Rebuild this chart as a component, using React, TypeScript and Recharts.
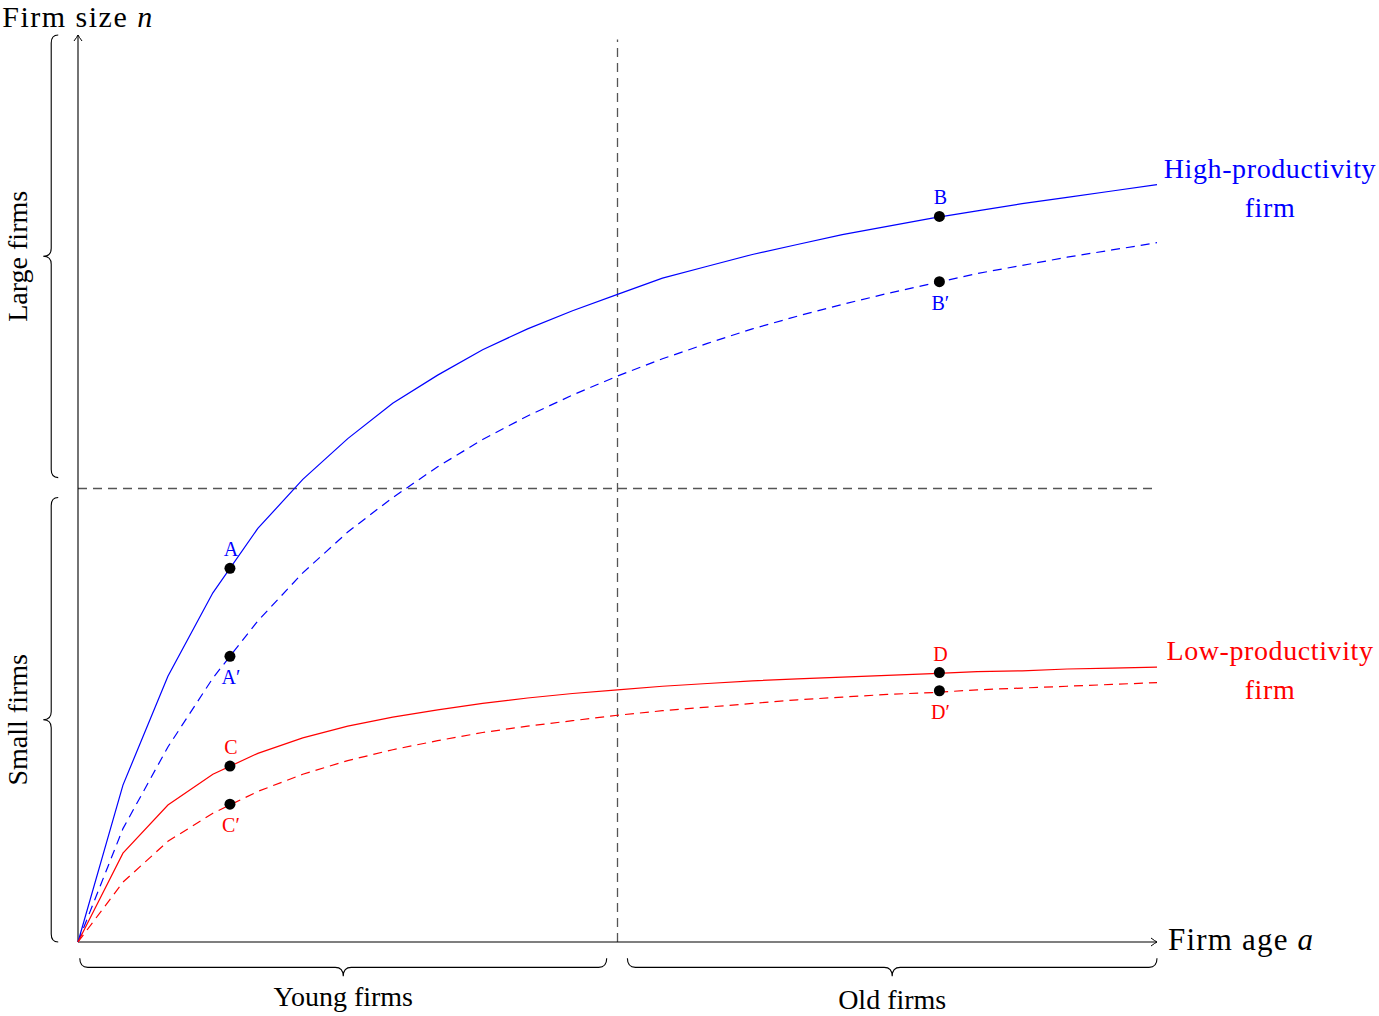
import { ComposedChart, Line, Scatter, XAxis, YAxis, ReferenceLine, ReferenceDot } from 'recharts';

document.body.style.margin = '0';

const FONT = '"Liberation Serif", "Times New Roman", serif';
const BLUE = '#0000ff';
const RED = '#ff0000';
const GUIDE = '#555';
const DASH = '9 6';

// firm age grid of the curves
const AGE = [0, 0.5, 1, 1.5, 2, 2.5, 3, 3.5, 4, 4.5, 5, 5.5, 6, 6.5, 7, 7.5, 8, 8.5, 9, 9.5, 10, 10.5, 11, 11.5, 12];
const HIGH_SOLID = [0, 1.73, 2.93, 3.85, 4.56, 5.1, 5.55, 5.94, 6.25, 6.53, 6.76, 6.96, 7.14, 7.32, 7.45, 7.58, 7.69, 7.8, 7.89, 7.98, 8.06, 8.14, 8.21, 8.28, 8.35];
const HIGH_DASHED = [0, 1.25, 2.15, 2.91, 3.54, 4.07, 4.52, 4.9, 5.24, 5.54, 5.8, 6.03, 6.24, 6.43, 6.6, 6.76, 6.9, 7.03, 7.15, 7.26, 7.37, 7.46, 7.55, 7.63, 7.71];
const LOW_SOLID = [0, 0.98, 1.51, 1.85, 2.08, 2.25, 2.38, 2.48, 2.56, 2.63, 2.69, 2.74, 2.78, 2.82, 2.85, 2.88, 2.9, 2.92, 2.94, 2.96, 2.98, 2.99, 3.01, 3.02, 3.03];
const LOW_DASHED = [0, 0.66, 1.11, 1.42, 1.66, 1.85, 2.0, 2.12, 2.22, 2.31, 2.38, 2.44, 2.5, 2.55, 2.59, 2.63, 2.67, 2.7, 2.73, 2.75, 2.78, 2.8, 2.82, 2.84, 2.86];

// marked points
const POINT_LABELS = ['A', 'A\u2032', 'B', 'B\u2032', 'C', 'C\u2032', 'D', 'D\u2032'];
const POINT_AGE = [1.69, 1.69, 9.58, 9.58, 1.69, 1.69, 9.58, 9.58];
const POINT_SIZE = [4.12, 3.15, 8.0, 7.28, 1.94, 1.52, 2.97, 2.77];
const POINT_COLOR = [BLUE, BLUE, BLUE, BLUE, RED, RED, RED, RED];
const POINT_BELOW = [false, true, false, true, false, true, false, true];

// thresholds and braces
const AGE_CUTOFF = 6;
const SIZE_CUTOFF = 5;
const AGE_MAX = 12;
const SIZE_MAX = 10;
const LARGE_RANGE = [5.12, 10];
const SMALL_RANGE = [0, 4.9];
const YOUNG_RANGE = [0.02, 5.88];
const OLD_RANGE = [6.11, 12];
const SIZE_BRACE_AT = -0.22;
const AGE_BRACE_AT = -0.18;

const rows = AGE.map((x, i) => ({
  x,
  highSolid: HIGH_SOLID[i],
  highDashed: HIGH_DASHED[i],
  lowSolid: LOW_SOLID[i],
  lowDashed: LOW_DASHED[i],
}));

const points = POINT_LABELS.map((label, i) => ({
  x: POINT_AGE[i],
  y: POINT_SIZE[i],
  label,
  color: POINT_COLOR[i],
  below: POINT_BELOW[i],
}));

const PointMark = (p: any) => {
  const { cx, cy, payload } = p;
  return (
    <g>
      <circle cx={cx} cy={cy} r={5.5} fill="#000" />
      <text
        x={cx + 1}
        y={payload.below ? cy + 28 : cy - 12}
        textAnchor="middle"
        fill={payload.color}
        fontSize={20}
        fontFamily={FONT}
      >
        {payload.label}
      </text>
    </g>
  );
};

const arrowHead = (x: number, y: number, dir: 'right' | 'up') =>
  dir === 'right'
    ? `M${x - 6},${y - 4} Q${x - 2},${y - 1} ${x},${y} Q${x - 2},${y + 1} ${x - 6},${y + 4}`
    : `M${x - 4},${y + 6} Q${x - 1},${y + 2} ${x},${y} Q${x + 1},${y + 2} ${x + 4},${y + 6}`;

const AgeAxis = (p: any) => {
  const { x1, y1, x2, y2 } = p;
  return (
    <g>
      <line x1={x1} y1={y1} x2={x2} y2={y2} stroke="#000" strokeWidth={1.1} />
      <path d={arrowHead(x2, y2, 'right')} fill="none" stroke="#000" strokeWidth={1} />
      <text x={x2 + 11} y={y2 + 8} fontSize={31} letterSpacing={1.2} fontFamily={FONT} fill="#000">
        Firm age <tspan fontStyle="italic">a</tspan>
      </text>
    </g>
  );
};

const SizeAxis = (p: any) => {
  const { x1, y1, x2, y2 } = p;
  return (
    <g>
      <line x1={x1} y1={y1} x2={x2} y2={y2} stroke="#000" strokeWidth={1.1} />
      <path d={arrowHead(x2, y2, 'up')} fill="none" stroke="#000" strokeWidth={1} />
      <text x={x2} y={y2 - 8} textAnchor="middle" fontSize={30} letterSpacing={1.5} fontFamily={FONT} fill="#000">
        Firm size <tspan fontStyle="italic">n</tspan>
      </text>
    </g>
  );
};

const braceShape = (label: string, side: 'left' | 'bottom', labelGap = 30) => (p: any) => {
  const { x1, y1, x2, y2 } = p;
  const r = 8;
  if (side === 'left') {
    const x0 = x1;
    const top = Math.min(y1, y2);
    const bot = Math.max(y1, y2);
    const mid = (top + bot) / 2;
    const b = x0 - 7;
    const t = x0 - 15;
    const d = `M${x0},${top} Q${b},${top} ${b},${top + r} L${b},${mid - r} Q${b},${mid} ${t},${mid} Q${b},${mid} ${b},${mid + r} L${b},${bot - r} Q${b},${bot} ${x0},${bot}`;
    return (
      <g>
        <path d={d} fill="none" stroke="#000" strokeWidth={1.1} />
        <text
          transform={`translate(${t - 16},${mid}) rotate(-90)`}
          textAnchor="middle"
          fontSize={28}
          fontFamily={FONT}
          fill="#000"
        >
          {label}
        </text>
      </g>
    );
  }
  const y0 = y1;
  const left = Math.min(x1, x2);
  const right = Math.max(x1, x2);
  const mid = (left + right) / 2;
  const b = y0 + 9;
  const t = y0 + 18;
  const d = `M${left},${y0} Q${left},${b} ${left + r},${b} L${mid - r},${b} Q${mid},${b} ${mid},${t} Q${mid},${b} ${mid + r},${b} L${right - r},${b} Q${right},${b} ${right},${y0}`;
  return (
    <g>
      <path d={d} fill="none" stroke="#000" strokeWidth={1.1} />
      <text x={mid} y={t + labelGap} textAnchor="middle" fontSize={28} fontFamily={FONT} fill="#000">
        {label}
      </text>
    </g>
  );
};

const endLabel = (first: string, second: string, color: string, shift: number) => (p: any) => {
  const cx = p.cx + shift;
  return (
    <text x={cx} y={p.cy - 7} textAnchor="middle" fill={color} fontSize={28} fontFamily={FONT} letterSpacing={0.6}>
      <tspan x={cx}>{first}</tspan>
      <tspan x={cx} dy={39}>
        {second}
      </tspan>
    </text>
  );
};

export default function App() {
  return (
    <div style={{ width: 1379, height: 1016, background: '#fff', fontFamily: FONT }}>
      <ComposedChart
        width={1379}
        height={1016}
        data={rows}
        margin={{ top: 35, right: 222, bottom: 74, left: 78 }}
      >
        <XAxis dataKey="x" type="number" domain={[0, AGE_MAX]} hide />
        <YAxis type="number" domain={[0, SIZE_MAX]} hide />

        <ReferenceLine y={SIZE_CUTOFF} stroke={GUIDE} strokeWidth={1.3} strokeDasharray={DASH} />
        <ReferenceLine
          segment={[{ x: AGE_CUTOFF, y: 0 }, { x: AGE_CUTOFF, y: 9.95 }]}
          stroke={GUIDE}
          strokeWidth={1.3}
          strokeDasharray={DASH}
          ifOverflow="visible"
        />
        <ReferenceLine segment={[{ x: 0, y: 0 }, { x: AGE_MAX, y: 0 }]} ifOverflow="visible" shape={AgeAxis} />
        <ReferenceLine segment={[{ x: 0, y: 0 }, { x: 0, y: SIZE_MAX }]} ifOverflow="visible" shape={SizeAxis} />

        <ReferenceLine
          segment={[{ x: SIZE_BRACE_AT, y: LARGE_RANGE[0] }, { x: SIZE_BRACE_AT, y: LARGE_RANGE[1] }]}
          ifOverflow="visible"
          shape={braceShape('Large firms', 'left')}
        />
        <ReferenceLine
          segment={[{ x: SIZE_BRACE_AT, y: SMALL_RANGE[0] }, { x: SIZE_BRACE_AT, y: SMALL_RANGE[1] }]}
          ifOverflow="visible"
          shape={braceShape('Small firms', 'left')}
        />
        <ReferenceLine
          segment={[{ x: YOUNG_RANGE[0], y: AGE_BRACE_AT }, { x: YOUNG_RANGE[1], y: AGE_BRACE_AT }]}
          ifOverflow="visible"
          shape={braceShape('Young firms', 'bottom', 30)}
        />
        <ReferenceLine
          segment={[{ x: OLD_RANGE[0], y: AGE_BRACE_AT }, { x: OLD_RANGE[1], y: AGE_BRACE_AT }]}
          ifOverflow="visible"
          shape={braceShape('Old firms', 'bottom', 33)}
        />

        <Line type="linear" dataKey="highSolid" stroke={BLUE} strokeWidth={1.2} dot={false} isAnimationActive={false} />
        <Line type="linear" dataKey="highDashed" stroke={BLUE} strokeWidth={1.2} strokeDasharray={DASH} dot={false} isAnimationActive={false} />
        <Line type="linear" dataKey="lowSolid" stroke={RED} strokeWidth={1.2} dot={false} isAnimationActive={false} />
        <Line type="linear" dataKey="lowDashed" stroke={RED} strokeWidth={1.2} strokeDasharray={DASH} dot={false} isAnimationActive={false} />

        <Scatter data={points} dataKey="y" shape={PointMark} isAnimationActive={false} />

        <ReferenceDot
          x={AGE_MAX}
          y={HIGH_SOLID[HIGH_SOLID.length - 1]}
          r={0}
          ifOverflow="visible"
          shape={endLabel('High-productivity', 'firm', BLUE, 113)}
        />
        <ReferenceDot
          x={AGE_MAX}
          y={LOW_SOLID[LOW_SOLID.length - 1]}
          r={0}
          ifOverflow="visible"
          shape={endLabel('Low-productivity', 'firm', RED, 113)}
        />
      </ComposedChart>
    </div>
  );
}
